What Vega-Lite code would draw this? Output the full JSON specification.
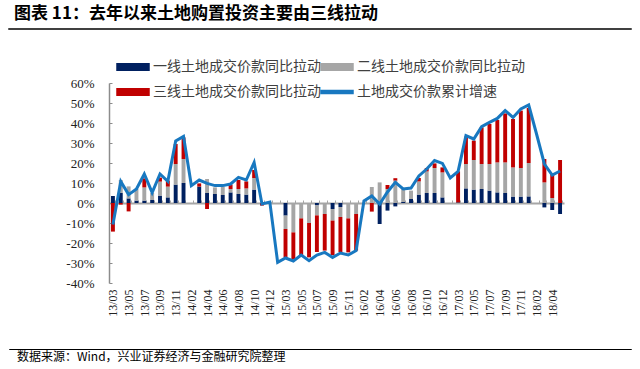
{
  "$schema": "https://vega.github.io/schema/vega-lite/v6.json",
  "padding": {"left": 8, "top": 4, "right": 0, "bottom": 0},
  "spacing": 28,
  "align": "none",
  "bounds": "full",
  "resolve": {"scale": {"color": "independent"}, "legend": {"color": "independent"}},
  "config": {
    "view": {"stroke": null},
    "axis": {"labelFont": "Liberation Serif"}
  },
  "datasets": {
    "d": [
      {"m":"13/03","t1":3.5,"t2":0,"t3":-14.3,"cum":-10.8},
      {"m":"13/04","t1":5,"t2":6.5,"t3":-0.8,"cum":10.8},
      {"m":"13/05","t1":2.3,"t2":6,"t3":-4.2,"cum":4.2},
      {"m":"13/06","t1":1.2,"t2":5.8,"t3":0,"cum":7},
      {"m":"13/07","t1":1.2,"t2":6.6,"t3":4.5,"cum":14.5},
      {"m":"13/08","t1":1.5,"t2":3.5,"t3":0,"cum":5.2},
      {"m":"13/09","t1":3.7,"t2":7,"t3":2,"cum":14.5},
      {"m":"13/10","t1":2.8,"t2":5.4,"t3":3,"cum":10.8},
      {"m":"13/11","t1":9.2,"t2":10.3,"t3":10,"cum":31},
      {"m":"13/12","t1":10,"t2":12,"t3":10.8,"cum":33.3},
      {"m":"14/02","cum":8.7},
      {"m":"14/03","t1":8.2,"t2":0,"t3":1.6,"cum":11.5},
      {"m":"14/04","t1":5,"t2":7,"t3":-3,"cum":9.8},
      {"m":"14/05","t1":4.5,"t2":3.3,"t3":0,"cum":8.7},
      {"m":"14/06","t1":4,"t2":4.2,"t3":0,"cum":8.7},
      {"m":"14/07","t1":5.3,"t2":1.7,"t3":2.2,"cum":9.5},
      {"m":"14/08","t1":4.5,"t2":2.5,"t3":4.5,"cum":12.8},
      {"m":"14/09","t1":4.2,"t2":3.1,"t3":3.5,"cum":11.5},
      {"m":"14/10","t1":6.7,"t2":5.8,"t3":4,"cum":20.3},
      {"m":"14/11","t1":0,"t2":0,"t3":-1.3,"cum":-0.5},
      {"m":"14/12","t1":0,"t2":0.5,"t3":0,"cum":0.5},
      {"m":"15/02","cum":-29.7},
      {"m":"15/03","t1":-6.3,"t2":-6.7,"t3":-14.2,"cum":-27.5},
      {"m":"15/04","t1":0,"t2":-14.7,"t3":-13.3,"cum":-29},
      {"m":"15/05","t1":0,"t2":-7.7,"t3":-18.3,"cum":-26},
      {"m":"15/06","t1":0,"t2":-10,"t3":-17.2,"cum":-28.8},
      {"m":"15/07","t1":-1.2,"t2":-5,"t3":-18.3,"cum":-26},
      {"m":"15/08","t1":0,"t2":-5.5,"t3":-18.3,"cum":-24.7},
      {"m":"15/09","t1":-3,"t2":-5.8,"t3":-17.2,"cum":-27.2},
      {"m":"15/10","t1":-2,"t2":-5,"t3":-17.5,"cum":-25},
      {"m":"15/11","t1":0,"t2":-7.7,"t3":-17,"cum":-26},
      {"m":"15/12","t1":0,"t2":-5.5,"t3":-18.3,"cum":-23.8},
      {"m":"16/02","cum":1},
      {"m":"16/03","t1":0,"t2":8,"t3":-4.3,"cum":3.5},
      {"m":"16/04","t1":-10.5,"t2":10.3,"t3":0,"cum":-0.5},
      {"m":"16/05","t1":-3.8,"t2":7,"t3":2,"cum":5.5},
      {"m":"16/06","t1":-1.7,"t2":11.2,"t3":1.2,"cum":10.3},
      {"m":"16/07","t1":0.5,"t2":6.8,"t3":0,"cum":7},
      {"m":"16/08","t1":2,"t2":4.2,"t3":0,"cum":7.5},
      {"m":"16/09","t1":4.2,"t2":6.6,"t3":1.7,"cum":13.5},
      {"m":"16/10","t1":5,"t2":10.8,"t3":1.7,"cum":17},
      {"m":"16/11","t1":5,"t2":12.5,"t3":2.3,"cum":21.2},
      {"m":"16/12","t1":2.8,"t2":12.5,"t3":2.5,"cum":19.8},
      {"m":"17/02","cum":12.5},
      {"m":"17/03","t1":0.3,"t2":0,"t3":15.5,"cum":15.8},
      {"m":"17/04","t1":7.3,"t2":12.2,"t3":13.7,"cum":33.7},
      {"m":"17/05","t1":6.7,"t2":14.8,"t3":9.7,"cum":32},
      {"m":"17/06","t1":7,"t2":12.5,"t3":18.3,"cum":38.2},
      {"m":"17/07","t1":6.2,"t2":13.3,"t3":20,"cum":40.3},
      {"m":"17/08","t1":5.3,"t2":15,"t3":21.2,"cum":42.3},
      {"m":"17/09","t1":5,"t2":15.3,"t3":24.5,"cum":46.2},
      {"m":"17/10","t1":3.2,"t2":14.6,"t3":24.2,"cum":42.8},
      {"m":"17/11","t1":3.2,"t2":14.3,"t3":28.7,"cum":47},
      {"m":"17/12","t1":3.3,"t2":16.7,"t3":27.5,"cum":49},
      {"m":"18/02","cum":34.5},
      {"m":"18/03","t1":-2.2,"t2":10.3,"t3":11.7,"cum":19.5},
      {"m":"18/04","t1":-3.5,"t2":2.5,"t3":12,"cum":14},
      {"m":"18/05","t1":-5.5,"t2":0,"t3":21.5,"cum":16}
    ],
    "series": [
      {"k":"t1","name":"一线土地成交价款同比拉动","o":1},
      {"k":"t2","name":"二线土地成交价款同比拉动","o":2},
      {"k":"t3","name":"三线土地成交价款同比拉动","o":3}
    ]
  },
  "vconcat": [
    {
      "width": 622,
      "height": 0.01,
      "view": {"stroke": "#000000", "strokeWidth": 1.5},
      "title": {"text": "图表 11：去年以来土地购置投资主要由三线拉动", "anchor": "start", "frame": "group", "font": "Noto Sans CJK SC", "fontSize": 17, "fontWeight": "bold", "color": "#000000", "offset": 6, "dx": 5},
      "data": {"values": []},
      "mark": "text",
      "encoding": {}
    },
    {
      "spacing": 39,
      "bounds": "full",
      "resolve": {"scale": {"color": "independent"}, "legend": {"color": "independent"}},
      "hconcat": [
        {
          "width": 1,
          "height": 237,
          "data": {"values": []},
          "mark": "text",
          "encoding": {}
        },
        {
          "width": 455,
          "height": 200,
          "data": {"name": "d"},
          "encoding": {
            "x": {
              "field": "m", "type": "ordinal",
              "scale": {"paddingInner": 0.5, "paddingOuter": 0.25},
              "axis": {
                "title": null, "orient": "bottom", "offset": -80,
                "domainColor": "#a6a6a6", "domainWidth": 2,
                "tickColor": "#a6a6a6", "tickSize": -3, "tickWidth": 1, "tickBand": "extent",
                "labelAngle": -90, "labelPadding": 89, "labelFontSize": 12, "labelColor": "#222222",
                "labelOverlap": false,
                "labelExpr": "indexof(['13/03','13/05','13/07','13/09','13/11','14/02','14/04','14/06','14/08','14/10','14/12','15/03','15/05','15/07','15/09','15/11','16/02','16/04','16/06','16/08','16/10','16/12','17/03','17/05','17/07','17/09','17/11','18/02','18/04'], datum.value) >= 0 ? datum.value : ''"
              }
            }
          },
          "layer": [
            {
              "transform": [
                {"fold": ["t1", "t2", "t3"], "as": ["k", "v"]},
                {"filter": "isValid(datum.v)"},
                {"lookup": "k", "from": {"data": {"name": "series"}, "key": "k", "fields": ["name", "o"]}}
              ],
              "mark": {"type": "bar"},
              "encoding": {
                "y": {
                  "field": "v", "type": "quantitative", "stack": "zero",
                  "scale": {"domain": [-40, 60], "nice": false},
                  "axis": {"title": null, "values": [-40,-30,-20,-10,0,10,20,30,40,50,60], "labelExpr": "datum.value + '%'", "grid": false, "domainColor": "#8c8c8c", "domainWidth": 1.5, "tickColor": "#8c8c8c", "tickSize": -3, "labelPadding": 18, "labelFontSize": 13, "labelColor": "#222222", "minExtent": 60}
                },
                "color": {
                  "field": "name", "type": "nominal",
                  "scale": {"domain": ["一线土地成交价款同比拉动", "二线土地成交价款同比拉动", "三线土地成交价款同比拉动", "土地成交价款累计增速"], "range": ["#002060", "#a6a6a6", "#c00000", "#1878c0"]},
                  "legend": {
                    "title": null, "orient": "none", "legendX": 15, "legendY": -25, "direction": "horizontal", "columns": 2,
                    "padding": 0, "symbolSize": 256, "labelOffset": 11, "columnPadding": -3, "rowPadding": 9,
                    "labelFont": "Noto Sans CJK SC", "labelFontSize": 14, "labelColor": "#404040", "labelLimit": 300,
                    "encode": {
                      "symbols": {"update": {
                        "shape": {"signal": "datum.value === '土地成交价款累计增速' ? 'M-2,-0.18H2V0.18H-2Z' : 'M-2,-0.4H2V0.4H-2Z'"},
                        "fill": {"scale": "color", "field": "value"},
                        "stroke": {"value": "transparent"},
                        "opacity": {"value": 1}
                      }}
                    }
                  }
                },
                "order": {"field": "o", "type": "quantitative"}
              }
            },
            {
              "mark": {"type": "line", "strokeWidth": 3},
              "encoding": {
                "y": {
                  "field": "cum", "type": "quantitative",
                  "scale": {"domain": [-40, 60], "nice": false},
                  "axis": {"title": null, "values": [-40,-30,-20,-10,0,10,20,30,40,50,60], "labelExpr": "datum.value + '%'", "grid": false, "domainColor": "#8c8c8c", "domainWidth": 1.5, "tickColor": "#8c8c8c", "tickSize": -3, "labelPadding": 18, "labelFontSize": 13, "labelColor": "#222222", "minExtent": 60}
                },
                "color": {"datum": "土地成交价款累计增速"}
              }
            }
          ]
        }
      ]
    },
    {
      "width": 622,
      "height": 0.01,
      "view": {"stroke": "#000000", "strokeWidth": 1},
      "title": {"text": "数据来源：Wind，兴业证券经济与金融研究院整理", "orient": "bottom", "anchor": "start", "frame": "group", "font": "Noto Sans CJK SC", "fontSize": 12, "fontWeight": "normal", "color": "#000000", "offset": 3, "dx": 8},
      "data": {"values": []},
      "mark": "text",
      "encoding": {}
    }
  ]
}
